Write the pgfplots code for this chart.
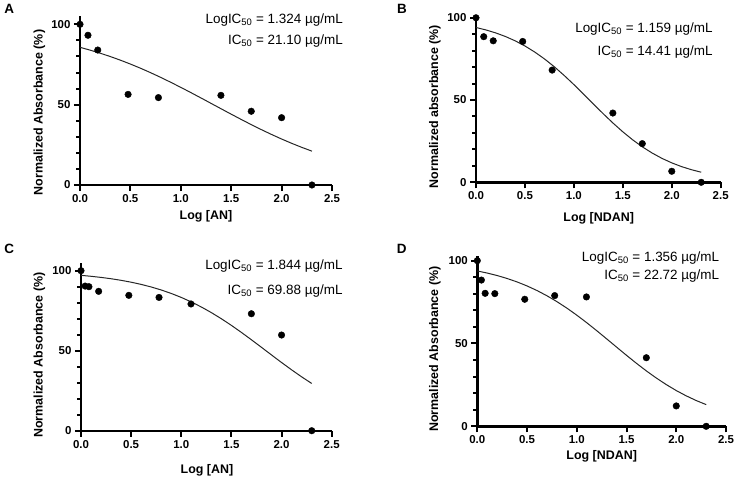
\documentclass[border=0pt]{standalone}
\usepackage{pgfplots}
\pgfplotsset{compat=1.18}
\usepackage{pgfplotstable}
\usepackage{fontspec}
\setmainfont{Liberation Sans}

\pgfplotstableread{
x y
0 100
0.079 93.2
0.176 84.0
0.477 56.4
0.778 54.4
1.398 55.8
1.699 45.9
2.000 41.9
2.301 0
}\ptsA
\pgfplotstableread{
x y
0 100
0.079 88.5
0.176 86.0
0.477 85.6
0.778 68.2
1.398 42.1
1.699 23.5
2.000 6.7
2.301 0
}\ptsB
\pgfplotstableread{
x y
0 100
0.041 90.4
0.079 90.0
0.176 87.1
0.477 84.6
0.778 83.3
1.097 79.2
1.699 73.1
2.000 59.8
2.301 0
}\ptsC
\pgfplotstableread{
x y
0 100
0.041 88.3
0.079 80.3
0.176 80.1
0.477 76.7
0.778 78.9
1.097 78.1
1.699 41.4
2.000 12.3
2.301 0
}\ptsD

\pgfplotstableread{
x y
0 85.69
0.1 83.95
0.2 82.04
0.3 79.97
0.4 77.71
0.5 75.28
0.6 72.69
0.7 69.92
0.8 67.00
0.9 63.94
1.0 60.77
1.1 57.51
1.2 54.18
1.3 50.81
1.4 47.43
1.5 44.08
1.6 40.78
1.7 37.55
1.8 34.44
1.9 31.46
2.0 28.62
2.1 25.94
2.2 23.43
2.301 21.07
}\fitA
\pgfplotstableread{
x y
0 94.10
0.1 92.63
0.2 90.83
0.3 88.63
0.4 85.99
0.5 82.85
0.6 79.18
0.7 74.97
0.8 70.22
0.9 64.99
1.0 59.39
1.1 53.51
1.2 47.55
1.3 41.65
1.4 35.98
1.5 30.68
1.6 25.84
1.7 21.53
1.8 17.77
1.9 14.54
2.0 11.81
2.1 9.54
2.2 7.67
2.301 6.13
}\fitB
\pgfplotstableread{
x y
0 97.10
0.1 96.51
0.2 95.81
0.3 94.98
0.4 93.99
0.5 92.82
0.6 91.44
0.7 89.83
0.8 87.95
0.9 85.78
1.0 83.30
1.1 80.48
1.2 77.32
1.3 73.81
1.4 69.96
1.5 65.82
1.6 61.41
1.7 56.81
1.8 52.09
1.9 47.34
2.0 42.63
2.1 38.05
2.2 33.67
2.301 29.52
}\fitC
\pgfplotstableread{
x y
0 93.80
0.1 92.52
0.2 91.02
0.3 89.24
0.4 87.16
0.5 84.75
0.6 81.97
0.7 78.82
0.8 75.28
0.9 71.37
1.0 67.11
1.1 62.55
1.2 57.76
1.3 52.81
1.4 47.81
1.5 42.85
1.6 38.02
1.7 33.42
1.8 29.13
1.9 25.17
2.0 21.58
2.1 18.39
2.2 15.57
2.301 13.09
}\fitD

\pgfplotsset{
  panel/.style={
    scale only axis, anchor=south west, clip=false,
    xmin=0, xmax=2.5, ymin=0,
    axis x line*=bottom, axis y line*=left,
    axis line style={line width=2.4bp, black},
    tick align=outside,
    major tick length=6bp, minor tick length=4bp,
    tick style={line width=2bp, black},
    xtick={0,0.5,1,1.5,2,2.5},
    xticklabels={0.0,0.5,1.0,1.5,2.0,2.5},
    ytick={0,50,100},
    minor ytick={10,20,30,40,60,70,80,90},
    /pgf/number format/assume math mode=true,
    tick label style={font=\fontsize{11.5}{11.5}\selectfont\bfseries},
  },
}

\newcommand{\ann}{\fontsize{13.5}{13.5}\selectfont}
\newcommand{\lab}{\fontsize{12.5}{12.5}\selectfont\bfseries}
\newcommand{\letf}{\fontsize{13.5}{13.5}\selectfont\bfseries}

\begin{document}
\begin{tikzpicture}
\path[use as bounding box] (0,0) rectangle (740bp,-481bp);

% Panel A
\begin{axis}[panel, at={(80bp,-185bp)}, width=252bp, height=168.7bp, ymax=105]
\addplot[no marks, line width=1bp, black!85] table[x=x,y=y] {\fitA};
\addplot[only marks, mark=*, mark size=3.3bp, black] table[x=x,y=y] {\ptsA};
\end{axis}
% Panel B
\begin{axis}[panel, at={(476bp,-182.3bp)}, width=244.7bp, height=167bp, ymax=101.5]
\addplot[no marks, line width=1bp, black!85] table[x=x,y=y] {\fitB};
\addplot[only marks, mark=*, mark size=3.3bp, black] table[x=x,y=y] {\ptsB};
\end{axis}
% Panel C
\begin{axis}[panel, at={(81bp,-430.7bp)}, width=250.7bp, height=168bp, ymax=105]
\addplot[no marks, line width=1bp, black!85] table[x=x,y=y] {\fitC};
\addplot[only marks, mark=*, mark size=3.3bp, black] table[x=x,y=y] {\ptsC};
\end{axis}
% Panel D
\begin{axis}[panel, at={(477.3bp,-426.3bp)}, width=248.7bp, height=170.6bp, ymax=103]
\addplot[no marks, line width=1bp, black!85] table[x=x,y=y] {\fitD};
\addplot[only marks, mark=*, mark size=3.3bp, black] table[x=x,y=y] {\ptsD};
\end{axis}

% panel letters
\node[font=\letf] at (9.2bp,-9.2bp) {A};
\node[font=\letf] at (402bp,-8.5bp) {B};
\node[font=\letf] at (9.2bp,-248.7bp) {C};
\node[font=\letf] at (401.7bp,-249bp) {D};

% axis labels
\node[font=\lab] at (206bp,-216bp) {Log [AN]};
\node[font=\lab, rotate=90] at (39.3bp,-112.5bp) {Normalized Absorbance (\%)};
\node[font=\lab] at (598.7bp,-218.7bp) {Log [NDAN]};
\node[font=\lab, rotate=90] at (435bp,-106.7bp) {Normalized absorbance (\%)};
\node[font=\lab] at (207bp,-470bp) {Log [AN]};
\node[font=\lab, rotate=90] at (39.3bp,-355bp) {Normalized Absorbance (\%)};
\node[font=\lab] at (601.7bp,-456.7bp) {Log [NDAN]};
\node[font=\lab, rotate=90] at (435bp,-349bp) {Normalized Absorbance (\%)};

% annotations
\node[font=\ann, anchor=base east, inner sep=0pt] at (343bp,-23.1bp) {LogIC\textsubscript{50} = 1.324 µg/mL};
\node[font=\ann, anchor=base east, inner sep=0pt] at (343bp,-44.8bp) {IC\textsubscript{50} = 21.10 µg/mL};
\node[font=\ann, anchor=base east, inner sep=0pt] at (712.7bp,-32.1bp) {LogIC\textsubscript{50} = 1.159 µg/mL};
\node[font=\ann, anchor=base east, inner sep=0pt] at (712.7bp,-55.2bp) {IC\textsubscript{50} = 14.41 µg/mL};
\node[font=\ann, anchor=base east, inner sep=0pt] at (342.7bp,-269.5bp) {LogIC\textsubscript{50} = 1.844 µg/mL};
\node[font=\ann, anchor=base east, inner sep=0pt] at (342.7bp,-294bp) {IC\textsubscript{50} = 69.88 µg/mL};
\node[font=\ann, anchor=base east, inner sep=0pt] at (719.3bp,-261bp) {LogIC\textsubscript{50} = 1.356 µg/mL};
\node[font=\ann, anchor=base east, inner sep=0pt] at (719.3bp,-279.8bp) {IC\textsubscript{50} = 22.72 µg/mL};
\end{tikzpicture}
\end{document}
